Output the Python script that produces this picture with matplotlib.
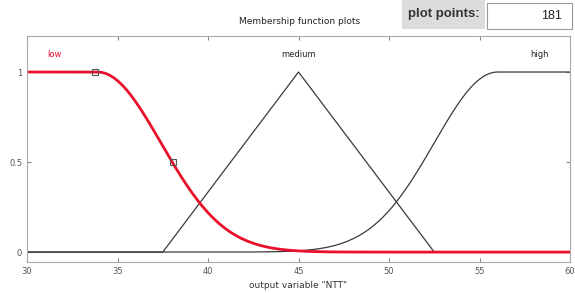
import matplotlib.pyplot as plt
import numpy as np
from matplotlib.patches import Rectangle

# membership functions of output variable "NTT"
x_range = [30, 60]
n_points = 181
low_params = [3.5, 33.9]          # gaussian shoulder: sigma, center (1 to the left)
medium_params = [37.5, 45, 52.5]  # triangle
high_params = [3.5, 56.0]         # gaussian shoulder: sigma, center (1 to the right)
mf_names = ["low", "medium", "high"]
label_x = [31.5, 45, 58.3]
low_markers_x = [33.75, 38.07]
low_markers_y = [1.0, 0.5]
x_ticks = [30, 35, 40, 45, 50, 55, 60]
y_ticks = [0, 0.5, 1]

x = np.linspace(x_range[0], x_range[1], n_points)


def gauss(v, sigma, c):
    return np.exp(-((v - c) ** 2) / (2 * sigma ** 2))


low = np.where(x <= low_params[1], 1.0, gauss(x, *low_params))
a, b, c = medium_params
medium = np.clip(np.minimum((x - a) / (b - a), (c - x) / (c - b)), 0, 1)
high = np.where(x >= high_params[1], 1.0, gauss(x, *high_params))

fig = plt.figure(figsize=(5.75, 2.93), dpi=100)
ax = fig.add_axes([27 / 575, 1 - 262 / 293, 543 / 575, 226 / 293])

ax.plot(x, medium, color="#3a3a3a", lw=0.9)
ax.plot(x, high, color="#3a3a3a", lw=0.9)
ax.plot(x, low, color="#e8102a", lw=2.0)
ax.plot(low_markers_x, low_markers_y, ls="none", marker="s", ms=4,
        mfc="none", mec="#555555", mew=0.8)

ax.text(label_x[0], 1.1, mf_names[0], color="#e8102a", fontsize=6, ha="center", va="center")
ax.text(label_x[1], 1.1, mf_names[1], color="#222222", fontsize=6, ha="center", va="center")
ax.text(label_x[2], 1.1, mf_names[2], color="#222222", fontsize=6, ha="center", va="center")

ax.set_xlim(x_range)
ax.set_ylim(-0.055, 1.2)
ax.set_xticks(x_ticks)
ax.set_yticks(y_ticks)
ax.set_yticklabels(["0", "0.5", "1"])
ax.tick_params(direction="in", length=3, labelsize=6, colors="#888888",
               top=True, right=True, labelcolor="#555555")
for s in ax.spines.values():
    s.set_color("#aaaaaa")
    s.set_linewidth(0.8)
ax.set_xlabel('output variable "NTT"', fontsize=6.5, color="#333333", labelpad=4)

fig.text(300 / 575, 1 - 22 / 293, "Membership function plots", fontsize=6.5,
         ha="center", va="center", color="#222222")

# "plot points" control
fig.patches.append(Rectangle((402 / 575, 1 - 29 / 293), 83 / 575, 29 / 293,
                             transform=fig.transFigure, facecolor="#dcdcdc",
                             edgecolor="none"))
fig.text(444 / 575, 1 - 14 / 293, "plot points:", fontsize=9.5, ha="center",
         va="center", color="#333333", fontweight="bold", family="Liberation Sans")
fig.patches.append(Rectangle((487 / 575, 1 - 29 / 293), 85 / 575, 26 / 293,
                             transform=fig.transFigure, facecolor="white",
                             edgecolor="#999999", lw=0.8))
fig.text(562 / 575, 1 - 16 / 293, str(n_points), fontsize=9, ha="right",
         va="center", color="#222222", family="Liberation Sans")

fig.savefig("out.png", dpi=100)
